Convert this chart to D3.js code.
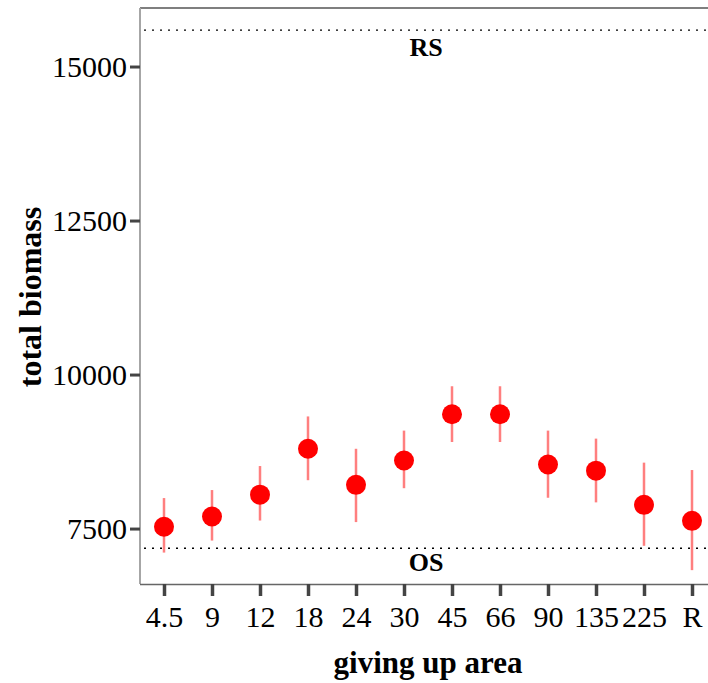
<!DOCTYPE html>
<html>
<head>
<meta charset="utf-8">
<script src="https://cdn.jsdelivr.net/npm/d3@7"></script>
<style>
  body { margin: 0; background: #fff; }
  text { font-family: "Liberation Serif", "Times New Roman", serif; }
</style>
</head>
<body>
<svg id="chart" width="708" height="683"></svg>
<script>
// giving up area categories and biomass estimates
const areas = ['4.5', '9', '12', '18', '24', '30', '45', '66', '90', '135', '225', 'R'];
const means = [7530, 7695, 8050, 8795, 8210, 8605, 9355, 9355, 8540, 8440, 7885, 7625];
const upper = [7995, 8125, 8515, 9320, 8795, 9090, 9810, 9810, 9090, 8960, 8570, 8450];
const lower = [7110, 7305, 7630, 8285, 7605, 8155, 8905, 8905, 8000, 7925, 7220, 6825];
const yTicks = [7500, 10000, 12500, 15000];
const refLines = [
  { label: 'RS', value: 15590, dy: 26 },
  { label: 'OS', value: 7180, dy: 23 }
];

const svg = d3.select('#chart');
const panel = { left: 140, right: 716, top: 8, bottom: 584 };

const x = d3.scalePoint()
  .domain(areas)
  .range([panel.left, panel.right])
  .padding(0.5);

const y = d3.scaleLinear()
  .domain([6600, 15950])
  .range([panel.bottom, panel.top]);

// panel frame (top and left only, right side runs off the page)
svg.append('line')
  .attr('x1', panel.left).attr('x2', 708)
  .attr('y1', panel.top).attr('y2', panel.top)
  .attr('stroke', '#555').attr('stroke-width', 1.5);

svg.append('line')
  .attr('x1', panel.left).attr('x2', panel.left)
  .attr('y1', panel.top).attr('y2', panel.bottom)
  .attr('stroke', '#a6a6a6').attr('stroke-width', 2);

// reference lines
refLines.forEach(d => {
  svg.append('line')
    .attr('x1', panel.left + 4).attr('x2', 708)
    .attr('y1', y(d.value)).attr('y2', y(d.value))
    .attr('stroke', '#000')
    .attr('stroke-width', 1.3)
    .attr('stroke-dasharray', '2,6');
  svg.append('text')
    .attr('x', 426)
    .attr('y', y(d.value) + d.dy)
    .attr('text-anchor', 'middle')
    .attr('font-weight', 'bold')
    .attr('font-size', 26)
    .text(d.label);
});

// y axis
const yAxis = svg.append('g')
  .attr('transform', `translate(${panel.left},0)`)
  .call(d3.axisLeft(y).tickValues(yTicks).tickSize(10).tickPadding(3).tickFormat(d3.format('d')));
yAxis.select('.domain').remove();
yAxis.selectAll('.tick line').attr('stroke', '#444').attr('stroke-width', 3);
yAxis.selectAll('.tick text')
  .attr('font-size', 30)
  .attr('fill', '#000')
  .style('font-family', '"Liberation Serif", serif');

// x axis
const xAxis = svg.append('g')
  .attr('transform', `translate(0,${panel.bottom})`)
  .call(d3.axisBottom(x).tickSize(12).tickPadding(10));
xAxis.select('.domain')
  .attr('d', `M${panel.left},0.5H708`)
  .attr('stroke', '#666').attr('stroke-width', 1.5);
xAxis.selectAll('.tick line').attr('stroke', '#444').attr('stroke-width', 3.5);
xAxis.selectAll('.tick text')
  .attr('font-size', 30)
  .attr('fill', '#000')
  .style('font-family', '"Liberation Serif", serif');

// error bars
svg.append('g')
  .selectAll('line')
  .data(areas)
  .join('line')
  .attr('x1', d => x(d)).attr('x2', d => x(d))
  .attr('y1', (d, i) => y(upper[i]))
  .attr('y2', (d, i) => y(lower[i]))
  .attr('stroke', '#ff7f7f')
  .attr('stroke-width', 2.5);

// points
svg.append('g')
  .selectAll('circle')
  .data(areas)
  .join('circle')
  .attr('cx', d => x(d))
  .attr('cy', (d, i) => y(means[i]))
  .attr('r', 10)
  .attr('fill', '#ff0000');

// axis titles
svg.append('text')
  .attr('x', 428).attr('y', 673)
  .attr('text-anchor', 'middle')
  .attr('font-weight', 'bold')
  .attr('font-size', 31)
  .text('giving up area');

svg.append('text')
  .attr('transform', 'translate(41,297) rotate(-90)')
  .attr('text-anchor', 'middle')
  .attr('font-weight', 'bold')
  .attr('font-size', 32)
  .text('total biomass');
</script>
</body>
</html>
